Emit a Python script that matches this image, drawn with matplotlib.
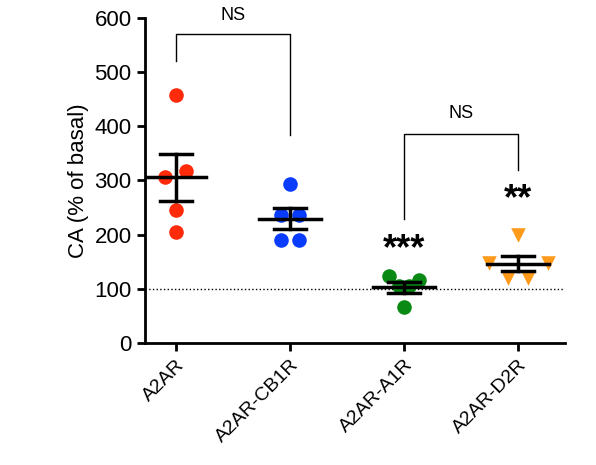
import matplotlib
matplotlib.use("Agg")
import matplotlib.pyplot as plt
import numpy as np

plt.rcParams['font.family'] = ['Liberation Sans', 'DejaVu Sans']

categories = ["A2AR", "A2AR-CB1R", "A2AR-A1R", "A2AR-D2R"]
a2ar = [458, 318, 306, 245, 204]
a2ar_cb1r = [294, 236, 236, 190, 190]
a2ar_a1r = [123, 116, 66, 105, 105]
a2ar_d2r = [199, 147, 147, 120, 120]
jitter = [[0, 0.09, -0.09, 0, 0], [0, -0.08, 0.08, -0.08, 0.08],
          [-0.13, 0.13, 0, -0.04, 0.04], [0, -0.26, 0.26, -0.09, 0.09]]
colors = ["#ff2a0a", "#0a3cff", "#0a8a14", "#ff9a1a"]
markers = ["o", "o", "o", "v"]

fig = plt.figure(figsize=(5.96, 4.65), dpi=100)
ax = fig.add_axes([0.243, 0.262, 0.705, 0.70])
for i, vals in enumerate([a2ar, a2ar_cb1r, a2ar_a1r, a2ar_d2r]):
    v = np.array(vals, float)
    x = i + np.array(jitter[i])
    ax.scatter(x, v, s=110, color=colors[i], marker=markers[i], zorder=2, linewidths=0)
    m = v.mean(); se = v.std(ddof=1) / np.sqrt(len(v))
    ax.plot([i - 0.27, i + 0.27], [m, m], color="k", lw=2.5, zorder=3)
    ax.plot([i, i], [m - se, m + se], color="k", lw=2.5, zorder=3)
    for y in (m - se, m + se):
        ax.plot([i - 0.14, i + 0.14], [y, y], color="k", lw=2.5, zorder=3)

ax.axhline(100, color="k", lw=1, ls=":", zorder=1)
ax.plot([0, 0, 1, 1], [520, 570, 570, 383], color="k", lw=1, clip_on=False)
ax.text(0.5, 588, "NS", ha="center", va="bottom", fontsize=13, clip_on=False)
ax.plot([2, 2, 3, 3], [228, 385, 385, 320], color="k", lw=1)
ax.text(2.5, 408, "NS", ha="center", va="bottom", fontsize=13)
ax.text(2, 140, "***", ha="center", va="bottom", fontsize=26, fontweight="bold")
ax.text(3, 232, "**", ha="center", va="bottom", fontsize=26, fontweight="bold")

ax.set_xlim(-0.27, 3.41)
ax.set_ylim(0, 600)
ax.set_yticks(range(0, 601, 100))
ax.set_xticks(range(4))
ax.set_xticklabels(categories, rotation=45, ha="right", rotation_mode="anchor", fontsize=14)
ax.tick_params(axis="y", labelsize=16, width=2, length=6)
ax.tick_params(axis="x", width=2, length=6)
ax.set_ylabel("CA (% of basal)", fontsize=16)
for s in ["top", "right"]:
    ax.spines[s].set_visible(False)
for s in ["left", "bottom"]:
    ax.spines[s].set_linewidth(2)
fig.savefig("out.png", dpi=100)
